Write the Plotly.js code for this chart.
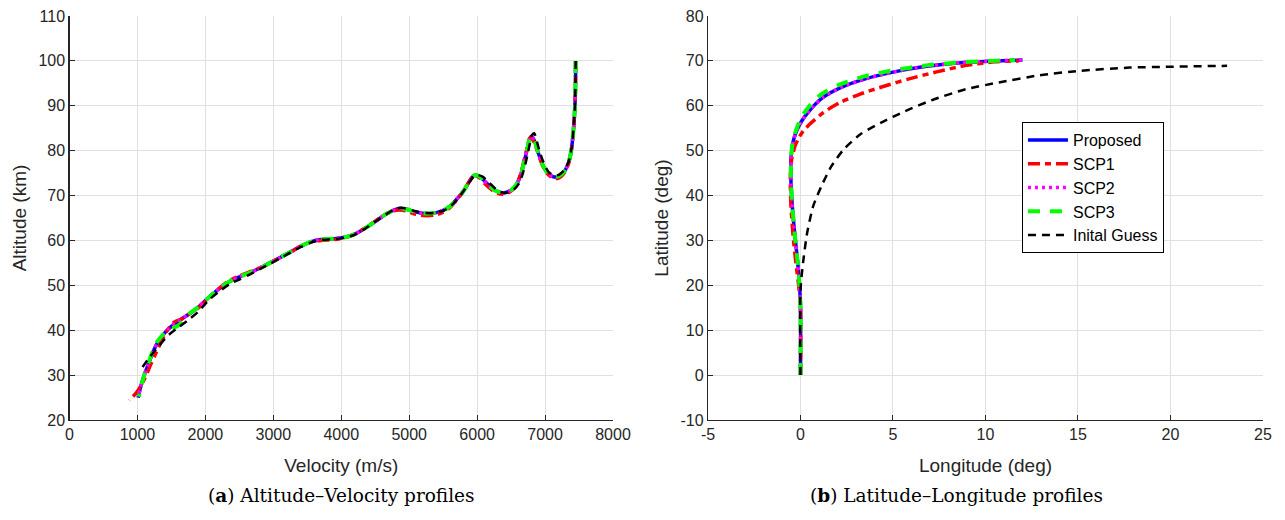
<!DOCTYPE html>
<html>
<head>
<meta charset="utf-8">
<script src="https://cdn.plot.ly/plotly-3.0.1.min.js"></script>
<style>html,body{margin:0;padding:0;background:#fff;}#chart{width:1285px;height:520px;}</style>
</head>
<body>
<div id="chart"></div>
<script>
// ---------- (a) Altitude–Velocity ----------
const velProposed = [7450, 7448, 7440, 7420, 7390, 7350, 7290, 7200, 7120, 7040, 6960, 6900, 6850, 6800, 6770, 6740, 6700, 6650, 6580, 6500, 6400, 6320, 6250, 6150, 6060, 5980, 5940, 5880, 5800, 5700, 5600, 5500, 5400, 5250, 5100, 4950, 4850, 4750, 4650, 4500, 4350, 4200, 4050, 3900, 3700, 3550, 3400, 3250, 3100, 2950, 2800, 2650, 2500, 2350, 2200, 2050, 1900, 1750, 1600, 1450, 1350, 1280, 1220, 1160, 1100, 1050, 1010];
const altProposed = [100, 95, 90, 85, 80.5, 77.5, 75.5, 74.3, 74.2, 75.0, 77.0, 79.5, 82.0, 83.2, 82.5, 80.5, 78.0, 75.0, 72.5, 71.2, 70.6, 70.8, 71.3, 72.6, 74.0, 74.6, 74.3, 73.0, 71.0, 69.2, 67.6, 66.7, 66.2, 66.0, 66.3, 67.0, 67.1, 66.6, 65.8, 64.2, 62.7, 61.4, 60.7, 60.4, 60.2, 59.7, 58.7, 57.4, 56.2, 55.0, 53.8, 52.8, 51.9, 50.8, 49.2, 47.3, 45.2, 43.5, 42.0, 40.2, 38.4, 36.8, 34.8, 32.4, 30.0, 27.5, 25.0];

const velSCP1 = [7450, 7448, 7440, 7420, 7390, 7350, 7290, 7200, 7120, 7040, 6960, 6900, 6840, 6790, 6760, 6730, 6690, 6640, 6570, 6480, 6380, 6300, 6230, 6130, 6040, 5970, 5930, 5870, 5790, 5700, 5600, 5500, 5400, 5250, 5100, 4950, 4850, 4750, 4650, 4500, 4350, 4200, 4050, 3900, 3700, 3550, 3400, 3250, 3100, 2950, 2800, 2650, 2500, 2350, 2200, 2050, 1900, 1750, 1650, 1540, 1420, 1300, 1200, 1100, 1050, 980, 880];
const altSCP1 = [100, 95, 90, 85, 80.5, 77.3, 75.2, 73.9, 73.9, 74.8, 76.8, 79.3, 81.8, 83.0, 82.3, 80.3, 77.8, 74.8, 72.2, 70.8, 70.3, 70.5, 71.1, 72.4, 73.9, 74.5, 74.2, 72.8, 70.8, 69.0, 67.3, 66.3, 65.7, 65.5, 65.8, 66.6, 66.8, 66.5, 65.8, 64.3, 62.8, 61.4, 60.6, 60.2, 60.0, 59.6, 58.7, 57.4, 56.2, 55.0, 53.9, 53.0, 52.1, 51.0, 49.3, 47.2, 45.0, 43.5, 42.5, 41.8, 39.5, 35.8, 32.5, 29.0, 27.6, 26.0, 24.4];

const velSCP2 = velProposed.slice();
const altSCP2 = altProposed.slice();

const velSCP3 = [7450, 7448, 7440, 7420, 7390, 7350, 7290, 7200, 7120, 7040, 6960, 6900, 6850, 6800, 6770, 6740, 6700, 6650, 6580, 6500, 6400, 6320, 6250, 6150, 6060, 5980, 5940, 5880, 5800, 5700, 5600, 5500, 5400, 5250, 5100, 4950, 4850, 4750, 4650, 4500, 4350, 4200, 4050, 3900, 3700, 3550, 3400, 3250, 3100, 2950, 2800, 2650, 2500, 2350, 2200, 2050, 1900, 1750, 1600, 1450, 1350, 1280, 1220, 1160, 1100, 1060, 1020];
const altSCP3 = [100, 95, 90, 85, 80.5, 77.5, 75.5, 74.3, 74.2, 75.0, 77.0, 79.5, 82.0, 83.2, 82.5, 80.5, 78.0, 75.0, 72.5, 71.2, 70.6, 70.8, 71.3, 72.6, 74.0, 74.6, 74.3, 73.0, 71.0, 69.2, 67.6, 66.7, 66.2, 66.0, 66.3, 67.0, 67.1, 66.6, 65.8, 64.2, 62.7, 61.4, 60.7, 60.4, 60.2, 59.7, 58.7, 57.4, 56.2, 55.0, 53.8, 52.8, 51.9, 50.8, 49.2, 47.3, 45.2, 43.5, 41.0, 40.0, 38.6, 37.2, 35.2, 32.6, 30.0, 27.8, 25.2];

const velGuess = [7450, 7448, 7440, 7420, 7390, 7350, 7290, 7200, 7130, 7050, 6980, 6920, 6870, 6840, 6810, 6780, 6740, 6690, 6620, 6530, 6430, 6350, 6270, 6170, 6080, 6000, 5950, 5880, 5800, 5700, 5600, 5500, 5400, 5250, 5100, 4950, 4880, 4780, 4680, 4500, 4350, 4200, 4050, 3900, 3700, 3550, 3400, 3250, 3100, 2950, 2800, 2650, 2500, 2350, 2200, 2050, 1900, 1750, 1600, 1450, 1300, 1180, 1060];
const altGuess = [100, 95, 90, 85, 80.5, 77.7, 75.8, 74.6, 74.5, 75.3, 77.3, 79.8, 82.6, 83.9, 83.5, 81.8, 79.0, 75.8, 72.8, 71.2, 70.6, 70.8, 71.5, 73.0, 74.2, 74.6, 74.2, 72.9, 71.0, 69.0, 67.5, 66.6, 66.2, 66.1, 66.5, 67.1, 67.3, 66.9, 66.0, 64.2, 62.6, 61.3, 60.6, 60.3, 60.1, 59.5, 58.5, 57.3, 56.0, 54.8, 53.6, 52.4, 51.3, 50.2, 48.6, 46.7, 44.2, 42.3, 40.6, 38.8, 36.2, 34.0, 31.5];

// ---------- (b) Latitude–Longitude ----------
const lonProposed = [0, 0, -0.05, -0.15, -0.3, -0.45, -0.52, -0.5, -0.4, -0.2, 0.05, 0.5, 1.2, 2.2, 3.5, 5.0, 6.8, 8.7, 10.5, 12.0];
const latProposed = [0, 15, 20, 25, 31, 38, 44, 49, 52, 54.5, 56.5, 59, 61.8, 64.1, 66.0, 67.5, 68.8, 69.6, 70.0, 70.2];

const lonSCP1 = [0, 0, -0.1, -0.25, -0.4, -0.52, -0.55, -0.48, -0.3, -0.1, 0.15, 0.58, 1.24, 2.12, 3.22, 4.55, 5.87, 7.41, 8.95, 10.5, 11.8];
const latSCP1 = [0, 15, 20, 25, 31, 38, 44, 48, 51, 52.8, 54.4, 56.2, 58.5, 60.7, 62.6, 64.4, 66.0, 67.6, 69.0, 69.8, 70.0];

const lonSCP2 = [0, 0, -0.05, -0.15, -0.3, -0.45, -0.52, -0.5, -0.4, -0.2, 0.05, 0.5, 1.2, 2.2, 3.5, 5.0, 6.8, 8.7, 10.5, 12.0];
const latSCP2 = [0, 15, 20, 25, 31, 38, 44, 49, 52, 54.5, 56.5, 59, 61.8, 64.1, 66.0, 67.5, 68.8, 69.6, 70.0, 70.2];

const lonSCP3 = [0, 0, -0.05, -0.15, -0.3, -0.45, -0.52, -0.5, -0.4, -0.2, 0.05, 0.45, 1.1, 2.1, 3.4, 5.0, 6.8, 8.7, 10.3, 11.6];
const latSCP3 = [0, 15, 20, 25, 31, 38, 44, 49, 52.5, 55, 57.5, 59.8, 62.5, 64.7, 66.5, 67.9, 69.0, 69.7, 70.0, 70.2];

const lonGuess = [0, 0, 0.14, 0.36, 0.69, 1.13, 1.68, 2.34, 3.22, 4.33, 5.65, 7.19, 8.95, 10.72, 12.92, 15.13, 17.77, 19.98, 23.06];
const latGuess = [0, 19, 25.1, 31.7, 37.7, 42.1, 46.6, 50.3, 53.6, 56.2, 58.8, 61.4, 63.7, 65.2, 66.8, 67.8, 68.5, 68.7, 68.9];

const seriesNames = ['Proposed', 'SCP1', 'SCP2', 'SCP3', 'Inital Guess'];
const captionA = '(<b>a</b>) Altitude–Velocity profiles';
const captionB = '(<b>b</b>) Latitude–Longitude profiles';

const velTicks = [0, 1000, 2000, 3000, 4000, 5000, 6000, 7000, 8000];
const velTickText = ['0', '1000', '2000', '3000', '4000', '5000', '6000', '7000', '8000'];
const altTicks = [20, 30, 40, 50, 60, 70, 80, 90, 100, 110];
const altTickText = ['20', '30', '40', '50', '60', '70', '80', '90', '100', '110'];
const lonTicks = [-5, 0, 5, 10, 15, 20, 25];
const lonTickText = ['-5', '0', '5', '10', '15', '20', '25'];
const latTicks = [-10, 0, 10, 20, 30, 40, 50, 60, 70, 80];
const latTickText = ['-10', '0', '10', '20', '30', '40', '50', '60', '70', '80'];

const styles = [
  {color: '#0000ff', width: 3.5, dash: 'solid'},
  {color: '#ff0000', width: 3.5, dash: '12px,5px,6px,5px'},
  {color: '#ff00ff', width: 3.5, dash: '3px,4px'},
  {color: '#00ff00', width: 4, dash: '12px,10px'},
  {color: '#000000', width: 2.5, dash: '8px,6px'}
];

const leftX = [velProposed, velSCP1, velSCP2, velSCP3, velGuess];
const leftY = [altProposed, altSCP1, altSCP2, altSCP3, altGuess];
const rightX = [lonProposed, lonSCP1, lonSCP2, lonSCP3, lonGuess];
const rightY = [latProposed, latSCP1, latSCP2, latSCP3, latGuess];

const traces = [];
for (let i = 0; i < 5; i++) {
  traces.push({x: leftX[i], y: leftY[i], type: 'scatter', mode: 'lines', name: seriesNames[i],
    line: Object.assign({shape: 'spline', smoothing: 0.8}, styles[i]), xaxis: 'x', yaxis: 'y', showlegend: false});
}
for (let i = 0; i < 5; i++) {
  traces.push({x: rightX[i], y: rightY[i], type: 'scatter', mode: 'lines', name: seriesNames[i],
    line: Object.assign({shape: 'spline', smoothing: 0.6}, styles[i]), xaxis: 'x2', yaxis: 'y2', showlegend: true});
}

const tickFont = {family: 'Liberation Sans', size: 16, color: '#262626'};
const titleFont = {family: 'Liberation Sans', size: 19, color: '#262626'};
function ax(extra) {
  return Object.assign({
    showline: true, linecolor: '#262626', linewidth: 1.2, mirror: false,
    ticks: 'inside', ticklen: 5, tickcolor: '#262626', tickwidth: 1,
    showgrid: true, gridcolor: '#e0e0e0', gridwidth: 1, zeroline: false,
    tickfont: tickFont, fixedrange: true, tickmode: 'array'
  }, extra);
}

const layout = {
  width: 1285, height: 520,
  margin: {l: 0, r: 0, t: 0, b: 0},
  paper_bgcolor: '#ffffff', plot_bgcolor: '#ffffff',
  showlegend: true,
  legend: {x: 0.7953, y: 0.7654, xanchor: 'left', yanchor: 'top',
    bgcolor: '#ffffff', bordercolor: '#000000', borderwidth: 1,
    font: {family: 'Liberation Sans', size: 16, color: '#000000'},
    itemwidth: 40, tracegroupgap: 0},
  xaxis: ax({domain: [0.05409, 0.47704], range: [0, 8000], tickvals: velTicks, ticktext: velTickText, anchor: 'y',
    title: {text: 'Velocity (m/s)', font: titleFont, standoff: 16}}),
  yaxis: ax({domain: [0.19231, 0.96923], range: [20, 110], tickvals: altTicks, ticktext: altTickText, anchor: 'x',
    title: {text: 'Altitude (km)', font: titleFont, standoff: 6}}),
  xaxis2: ax({domain: [0.55097, 0.98288], range: [-5, 25], tickvals: lonTicks, ticktext: lonTickText, anchor: 'y2',
    title: {text: 'Longitude (deg)', font: titleFont, standoff: 16}}),
  yaxis2: ax({domain: [0.19231, 0.96923], range: [-10, 80], tickvals: latTicks, ticktext: latTickText, anchor: 'x2',
    title: {text: 'Latitude (deg)', font: titleFont, standoff: 6}}),
  annotations: [
    {text: captionA, xref: 'paper', yref: 'paper', x: 341 / 1285, y: 1 - 495 / 520, xanchor: 'center', yanchor: 'middle',
      showarrow: false, font: {family: 'DejaVu Serif', size: 18.5, color: '#000000'}},
    {text: captionB, xref: 'paper', yref: 'paper', x: 956 / 1285, y: 1 - 495 / 520, xanchor: 'center', yanchor: 'middle',
      showarrow: false, font: {family: 'DejaVu Serif', size: 18.5, color: '#000000'}}
  ]
};

Plotly.newPlot('chart', traces, layout, {staticPlot: true, displayModeBar: false});
</script>
</body>
</html>
